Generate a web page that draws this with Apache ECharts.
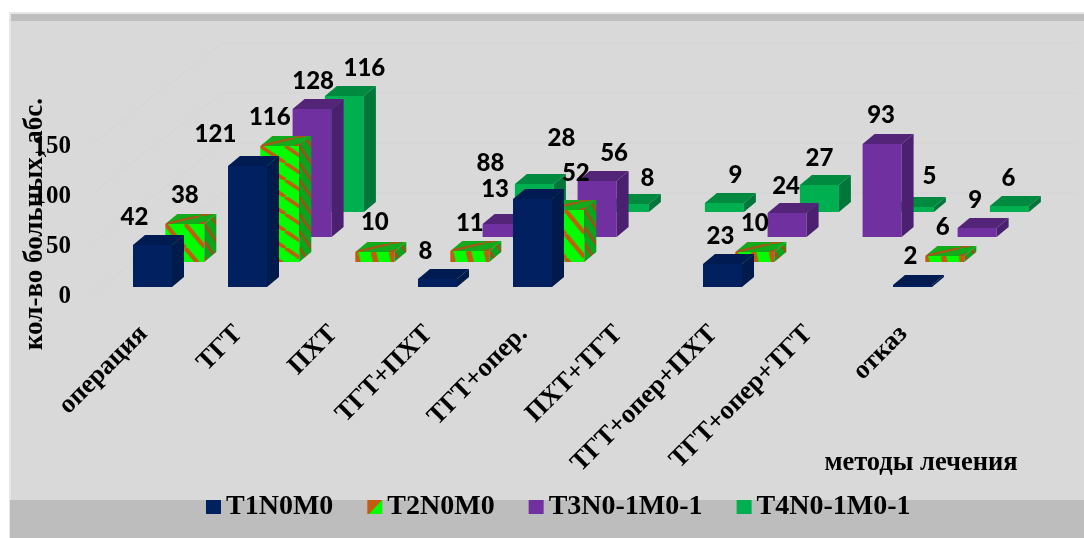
<!DOCTYPE html>
<html>
<head>
<meta charset="utf-8">
<style>html,body{margin:0;padding:0;background:#fff}#chart{width:1084px;height:538px}</style>
<script src="https://cdn.jsdelivr.net/npm/echarts@6/dist/echarts.min.js"></script>
</head>
<body>
<div id="chart"></div>
<script>
// Treatment methods on the category axis
const categories = ['операция', 'ТГТ', 'ПХТ', 'ТГТ+ПХТ', 'ТГТ+опер.', 'ПХТ+ТГТ', 'ТГТ+опер+ПХТ', 'ТГТ+опер+ТГТ', 'отказ'];
const seriesNames = ['T1N0M0', 'T2N0M0', 'T3N0-1M0-1', 'T4N0-1M0-1'];
// Patient counts per stage and method
const t1Values = [42, 121, null, 8, 88, null, 23, null, 2];
const t2Values = [38, 116, 10, 11, 52, null, 10, null, 6];
const t3Values = [null, 128, null, 13, 56, null, 24, 93, 9];
const t4Values = [null, 116, null, 28, 8, 9, 27, 5, 6];
const valueTicks = [0, 50, 100, 150];

// Fake-3D projection: each row steps right and up, each box has a small depth
const ROW_DX = 32.3, ROW_DY = 25, FRONT_LIFT = 10, BAR_W = 39, DEPTH_X = 12, DEPTH_Y = 10, FIRST_BAR = -10.5;
const SERIF = '"Liberation Serif", serif';

// Hand-placed value labels: [dx, dy] from the middle of the bar's top front edge
const labelShifts = {
  0: {0: [-18, -28], 1: [-32, -32], 3: [-12, -28], 4: [-42, -36], 6: [-2, -28], 8: [-2, -29]},
  1: {0: [0, -29], 1: [-10, -29], 2: [0, -30], 3: [0, -28], 4: [11, -37], 6: [0, -29], 8: [-2, -29]},
  2: {1: [1, -28], 3: [-7, -35], 4: [17, -28], 6: [-1, -27], 7: [-1, -29], 8: [-2, -28]},
  3: {1: [20, -28], 3: [27, -46], 4: [18, -26], 5: [11, -28], 6: [0, -27], 7: [15, -31], 8: [-1, -28]}
};

function stripeTile(px, py, width, bg, fg, mirror) {
  const c = document.createElement('canvas');
  c.width = px; c.height = py;
  const g = c.getContext('2d');
  g.fillStyle = bg; g.fillRect(0, 0, px, py);
  g.strokeStyle = fg; g.lineWidth = width;
  for (let k = -1; k <= 1; k++) {
    g.beginPath();
    if (mirror) { g.moveTo((k + 1) * px, 0); g.lineTo(k * px, py); }
    else { g.moveTo(k * px, 0); g.lineTo((k + 1) * px, py); }
    g.stroke();
  }
  return {image: c, repeat: 'repeat'};
}

const hatch = {
  tall: stripeTile(25, 17, 3.6, '#00ff00', '#c55a11'),
  mid: stripeTile(20, 24, 4.2, '#00ff00', '#c55a11'),
  flat: stripeTile(18, 70, 5.5, '#00ff00', '#c55a11'),
  side: stripeTile(12, 17, 3, '#0aa51c', '#96551a'),
  top: stripeTile(34, 8, 2.4, '#12ab1c', '#a15a18', true)
};

const faces = [
  {front: '#002060', side: '#001a4c', top: '#001b52'},
  {front: null, side: hatch.side, top: hatch.top},
  {front: '#7030a0', side: '#4c2070', top: '#532478'},
  {front: '#00b050', side: '#00763a', top: '#008a40'}
];

function poly(points, fill, z2, x, y) {
  return {type: 'polygon', x: x, y: y, z2: z2, silent: true, shape: {points: points}, style: {fill: fill, stroke: null}};
}

function boxRenderer(row) {
  return function (params, api) {
    const cat = api.value(0), val = api.value(1);
    const top = api.coord([cat, val]), base = api.coord([cat, 0]);
    const lift = FRONT_LIFT + row * ROW_DY;
    const x = top[0] + FIRST_BAR + row * ROW_DX;
    const yBase = base[1] - lift, yTop = top[1] - lift;
    const h = yBase - yTop;
    const f = faces[row];
    const front = f.front || (h > 80 ? hatch.tall : h > 20 ? hatch.mid : hatch.flat);
    const z = 10 - row;
    const shift = labelShifts[row][cat] || [0, -28];
    return {
      type: 'group',
      children: [
        poly([[0, 0], [BAR_W, 0], [BAR_W, h], [0, h]], front, z * 3, x, yTop),
        poly([[0, 0], [DEPTH_X, -DEPTH_Y], [DEPTH_X, h - DEPTH_Y], [0, h]], f.side, z * 3, x + BAR_W, yTop),
        poly([[0, 0], [DEPTH_X, -DEPTH_Y], [BAR_W + DEPTH_X, -DEPTH_Y], [BAR_W, 0]], f.top, z * 3, x, yTop),
        {
          type: 'text', z2: 100, silent: true,
          x: x + BAR_W / 2 + shift[0], y: yTop + shift[1],
          style: {text: String(val), fill: '#000', font: '900 24px Lato, sans-serif', align: 'center', verticalAlign: 'middle'}
        }
      ]
    };
  };
}

function wallRenderer(params, api) {
  const cs = params.coordSys;
  const x0 = cs.x - 3;
  const y = api.coord([0, api.value(0)])[1] - FRONT_LIFT + 6;
  const backX = x0 + 4 * ROW_DX, backY = y - 4 * ROW_DY;
  return {
    type: 'polyline', silent: true, z2: 0,
    shape: {points: [[x0, y], [backX, backY], [1078, backY]]},
    style: {fill: null, stroke: '#d5d5d5', lineWidth: 1}
  };
}

const rows = [t1Values, t2Values, t3Values, t4Values];
const series = [{
  type: 'custom', name: 'стенки', renderItem: wallRenderer, data: valueTicks.map(v => [v]),
  encode: {y: 0}, silent: true, clip: false, z: 1
}];
// Back rows are added first so the nearer boxes cover them
[3, 2, 1, 0].forEach(function (row) {
  series.push({
    type: 'custom', name: seriesNames[row], renderItem: boxRenderer(row), clip: false, z: 2,
    itemStyle: {color: ['#002060', '#00ff00', '#7030a0', '#00b050'][row]},
    encode: {x: 0, y: 1},
    data: rows[row].map((v, i) => [i, v]).filter(d => d[1] !== null)
  });
});

const legendT2Fill = {
  type: 'linear', x: 0, y: 0, x2: 1, y2: 1,
  colorStops: [{offset: 0, color: '#c55a11'}, {offset: 0.5, color: '#c55a11'}, {offset: 0.55, color: '#00ff00'}, {offset: 1, color: '#00ff00'}]
};

const chart = echarts.init(document.getElementById('chart'), null, {renderer: 'canvas'});
chart.setOption({
  animation: false,
  backgroundColor: '#ffffff',
  graphic: [
    {type: 'rect', z: -10, silent: true, shape: {x: 9, y: 12, width: 1075, height: 526}, style: {fill: '#e6e6e6'}},
    {type: 'rect', z: -9, silent: true, shape: {x: 11, y: 14, width: 1073, height: 524}, style: {fill: '#d9d9d9'}},
    {type: 'rect', z: -8, silent: true, shape: {x: 11, y: 14, width: 1073, height: 7}, style: {fill: '#bfbfbf'}},
    {type: 'rect', z: -8, silent: true, shape: {x: 10, y: 500, width: 1074, height: 38}, style: {fill: '#bdbdbd'}},
    {type: 'text', z: 5, silent: true, x: 921, y: 463, style: {text: 'методы лечения', fill: '#000', font: '700 26.5px ' + SERIF, align: 'center', verticalAlign: 'middle'}},
    {type: 'text', z: 5, silent: true, x: 35, y: 224, rotation: Math.PI / 2, style: {text: 'кол-во больных, абс.', fill: '#000', font: '700 27px ' + SERIF, align: 'center', verticalAlign: 'middle'}}
  ],
  grid: {left: 96, top: 147, width: 855, height: 150, containLabel: false},
  xAxis: {
    type: 'category', data: categories,
    axisLine: {show: false}, axisTick: {show: false}, splitLine: {show: false},
    axisLabel: {interval: 0, rotate: 45, margin: 33, color: '#000', fontFamily: SERIF, fontWeight: 700, fontSize: 26.5}
  },
  yAxis: {
    type: 'value', min: 0, max: 150, interval: 50,
    axisLine: {show: false}, axisTick: {show: false}, splitLine: {show: false},
    axisLabel: {margin: 25, color: '#000', fontFamily: SERIF, fontWeight: 700, fontSize: 25}
  },
  legend: {
    left: 206, top: 493, data: seriesNames.map((n, i) => i === 1 ? {name: n, itemStyle: {color: legendT2Fill}} : {name: n}),
    icon: 'rect', itemWidth: 15, itemHeight: 14, itemGap: 34, padding: 0, selectedMode: false,
    textStyle: {color: '#000', fontFamily: SERIF, fontWeight: 700, fontSize: 28, padding: [6, 0, 0, 0]}
  },
  series: series
});
</script>
</body>
</html>
